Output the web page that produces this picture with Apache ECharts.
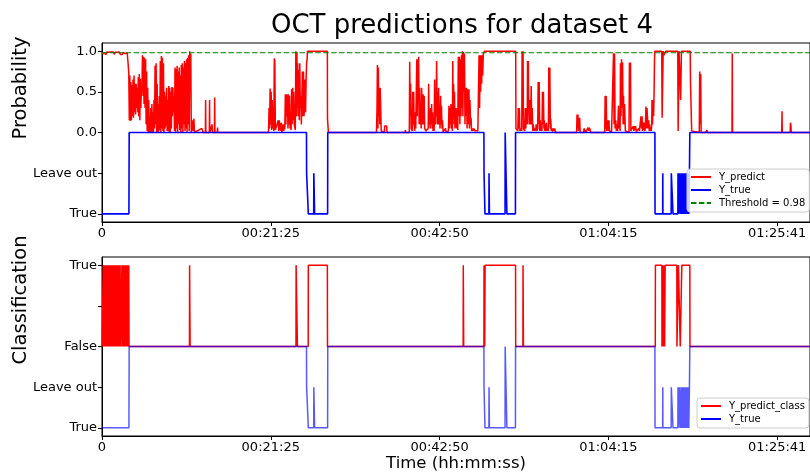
<!DOCTYPE html>
<html><head><meta charset="utf-8">
<script src="https://cdn.jsdelivr.net/npm/echarts@6/dist/echarts.min.js"></script>
<style>html,body{margin:0;padding:0;background:#fff}#c{width:810px;height:476px}</style>
</head><body><div id="c"></div>
<script>
// ---- axis ticks / labels ----
const xTicks = [0, 1285.25, 2570.5, 3855.75, 5141];
const xMax = 5391;
const yTicks = [-1, -0.5, 0, 0.5, 1];
const topYLabels = ['True', 'Leave out', '0.0', '0.5', '1.0'];
const bottomYLabels = ['True', 'Leave out', 'False', '', 'True'];
const threshold = 0.98;

// ---- ground truth (seconds, level: 0 false, -0.5 leave out, -1 true) ----
const yTrue = [[0,-1],[205,-1],[206,-0.5],[207,0],
 [1557,0],[1558,-0.5],[1570,-0.5],[1571,-1],[1612,-1],[1613,-0.5],[1618,-0.5],[1619,-1],[1718,-1],[1719,0],
 [2908,0],[2909,-0.5],[2915,-0.5],[2916,-1],[2946,-1],[2947,-0.5],[2949,-0.5],[2950,-1],[3069,-1],[3070,0],[3082,0],[3083,-1],[3148,-1],[3149,0],
 [4210,0],[4211,-1],[4269,-1],[4270,-0.5],[4271,-1],[4334,-1],[4335,-0.5],[4347,-0.5],[4348,-1],[4385,-1],[4386,-0.5],[4387,-1],
 [4396,-1],[4397,-0.5],[4399,-0.5],[4400,-1],[4409,-1],[4410,-0.5],[4411,-1],[4420,-1],[4421,-0.5],[4422,-1],[4430,-1],[4431,-0.5],[4432,-1],
 [4438,-1],[4439,-0.5],[4440,-1],[4445,-1],[4446,-0.5],[4447,-1],[4452,-1],[4453,-0.5],[4454,-1],[4459,-1],[4460,-0.5],[4461,-1],
 [4466,-1],[4467,-0.5],[4468,-1],[4472,-1],[4473,-0.5],[4475,-0.5],[4476,0],[5391,0]];

// ---- predicted probability ----
// first stretch, sampled every 4 s from t = 0
const predA_t0 = 0, predA_dt = 4;
const predA = [0.97,0.99,0.96,0.985,0.975,0.99,0.97,0.985,0.96,0.99,0.975,0.99,0.97,0.985,0.98,0.99,0.965,0.99,0.975,0.985,
 0.97,0.99,0.975,0.99,0.96,0.985,0.97,0.99,0.975,0.985,0.97,0.99,0.975,0.99,0.97,0.96,0.97,0.965,0.97,0.96,
 0.985,0.99,0.975,0.99,0.97,0.985,0.99,0.96,0.98,0.9,0.82,0.72];
// dense noisy stretch, sampled every 4 s from t = 208
const predB_t0 = 208, predB_dt = 4;
const predB = [0.15,0.7,0.14,0.62,0.15,0.58,0.2,0.65,0.18,0.7,0.25,0.6,0.22,0.6,0.3,0.55,0.25,0.68,0.2,0.72,
 0.15,0.66,0.3,0.55,0.5,0.95,0.45,0.93,0.35,0.92,0.3,0.9,0.1,0.75,0.02,0.55,0,0.4,0,0.2,
 0,0.3,0,0.35,0.01,0.25,0,0.4,0.05,0.82,0.1,0.85,0,0.6,0,0.35,0.01,0.45,0.03,0.88,
 0,0.94,0.05,0.92,0.02,0.85,0,0.5,0.05,0.45,0.08,0.55,0.02,0.4,0.02,0.57,0,0.55,0,0.5,
 0.05,0.56,0.2,0.55,0.25,0.45,0.02,0.8,0.01,0.78,0.05,0.82,0,0.75,0.1,0.8,0.03,0.7,0,0.83,
 0.05,0.85,0,0.8,0.1,0.88,0.02,0.85,0.05,0.9,0,0.92,0.1,0.95,0.02,1.0,0.5,0.97,0];
// remaining points [seconds, probability]
const predRest = [[684,0],[690,0.15],[694,0.02],[700,0.17],[704,0],[760,0.05],[766,0.07],[770,0],[787,0],[789,0.4],[791,0],
 [817,0],[819,0.4],[821,0],[835,0],[838,0.1],[840,0],[856,0],[858,0.43],[860,0],[878,0],[880,0.06],[882,0],
 [1000,0],[1003,0.02],[1006,0],[1150,0],[1153,0.02],[1156,0],
 [1268,0],[1272,0.3],[1276,0.05],[1280,0.54],[1284,0.1],[1288,0.5],[1292,0.03],[1296,0.4],[1300,0.05],[1304,0.3],[1308,0.02],
 [1312,0.91],[1316,0.88],[1320,0.03],[1326,0.02],[1330,0.05],[1342,0.15],[1346,0.02],[1350,0.15],[1354,0.03],[1358,0.12],
 [1362,0.02],[1366,0.12],[1370,0],[1380,0.1],[1384,0.02],[1388,0.1],[1392,0.04],[1396,0.47],[1400,0.1],[1404,0.47],
 [1408,0.2],[1412,0.47],[1416,0.05],[1420,0.47],[1424,0.1],[1428,0.45],[1432,0.05],[1436,0.1],[1440,0.03],[1444,0.53],
 [1448,0.1],[1452,0.55],[1456,0.15],[1460,0.5],[1464,0.1],[1468,0.12],[1472,0.03],[1476,1.0],[1480,0.2],[1484,0.99],
 [1488,0.3],[1490,0.85],[1494,0.2],[1498,0.77],[1502,0.15],[1506,0.85],[1510,0.3],[1514,0.45],[1518,0.1],[1522,0.45],
 [1526,0.75],[1530,0.2],[1534,0.75],[1538,0.2],[1542,0.3],[1546,0.65],[1550,0.25],[1554,0.65],[1558,0.86],[1562,0.9],
 [1564,1.0],[1716,1.0],[1717,0.17],[1722,0.17],[1724,0],[1730,0],
 [2090,0],[2094,0.3],[2097,0.83],[2101,0.05],[2104,0.8],[2108,0.2],[2111,0.55],[2115,0.1],[2118,0.55],[2122,0.3],[2126,0.02],
 [2150,0],[2152,0.08],[2158,0.08],[2162,0.07],[2168,0.08],[2170,0],[2308,0],[2310,0.03],[2312,0],
 [2340,0],[2343,0.87],[2347,0.2],[2350,0.6],[2354,0.05],[2358,0.05],[2362,0.02],[2366,0.5],[2369,0.1],[2373,0.5],[2377,0.1],
 [2381,0.02],[2385,0.25],[2389,0.05],[2393,0.05],[2397,0.9],[2401,0.2],[2404,0.9],[2407,0.4],[2411,0.93],[2415,0.1],
 [2419,0.55],[2423,0.1],[2426,0.3],[2430,0.05],[2434,0.55],[2438,0.1],[2441,0.1],[2445,0.47],[2449,0.1],[2453,0.45],
 [2457,0.05],[2461,0.05],[2466,0.02],[2472,0.02],[2478,0],[2484,0.05],[2487,0.6],[2491,0.1],[2495,0.2],[2499,0.05],
 [2502,0.3],[2506,0.1],[2510,0.35],[2514,0.05],[2517,0.25],[2521,0.02],[2525,0.05],[2529,0.02],[2533,0.65],[2537,0.1],
 [2540,0.4],[2544,0.2],[2548,0.88],[2552,0.1],[2555,0.5],[2559,0.1],[2563,0.55],[2567,0.1],[2570,0.3],[2574,0.05],
 [2578,0.45],[2582,0.1],[2585,0.33],[2589,0.05],[2593,0.15],[2597,0.01],[2601,0.02],[2608,0],[2616,0.05],[2620,0],
 [2623,0.02],[2630,0],[2638,0.02],[2642,0.33],[2646,0.05],[2650,0.3],[2654,0.1],[2657,0.35],[2661,0.05],[2665,0.1],
 [2668,0.02],[2671,0.88],[2674,0.2],[2677,0.6],[2681,0.1],[2684,0.5],[2688,0.05],[2692,0.3],
 [2697,0.3],[2701,0.05],[2705,0.3],[2709,0.03],[2713,0.93],[2717,0.2],[2721,0.93],[2725,0.1],[2729,0.9],[2733,0.2],
 [2737,0.95],[2741,0.3],[2744,1.0],[2748,0.2],[2752,0.99],[2756,0.5],[2760,0.97],[2764,0.1],[2768,0.55],[2772,0.2],
 [2776,0.55],[2780,0.05],[2786,0.53],[2790,0.1],[2794,0.53],[2798,0.05],[2802,0.4],[2806,0.1],[2810,0.18],[2814,0.02],
 [2820,0.05],[2826,0.02],[2832,0.05],[2840,0.02],[2850,0],[2862,0.02],[2868,0],[2871,0.95],[2875,0.3],[2879,0.95],
 [2883,0.5],[2887,0.95],[2891,0.6],[2895,0.95],[2899,0.7],[2903,0.96],[2907,0.96],[2911,1.0],[3150,1.0],
 [3152,0.05],[3158,0.03],[3166,0.02],[3170,0.3],[3174,0.05],[3178,0.3],[3182,0.02],[3190,0.05],[3196,0.02],[3199,1.0],
 [3203,0.2],[3206,1.0],[3209,0.05],[3215,0.05],[3219,0.02],[3223,0.3],[3227,0.05],[3231,0.3],[3235,0.3],[3238,0.1],
 [3240,0.88],[3243,0.3],[3246,0.88],[3249,0.3],[3253,0.1],[3257,0.4],[3261,0.1],[3265,0.2],[3268,0.57],[3272,0.1],
 [3276,0.3],[3280,0.02],[3284,0.1],[3290,0.02],[3296,0.05],[3302,0.02],[3306,0.1],[3312,0.02],[3318,0.05],[3321,0.62],
 [3325,0.1],[3329,0.62],[3333,0.02],[3337,0.15],[3341,0.02],[3345,0.1],[3350,0.02],[3354,0.5],[3358,0.1],[3361,0.5],
 [3365,0.05],[3368,0.15],[3372,0.02],[3376,0.1],[3380,0.02],[3384,0.12],[3388,0.02],[3394,0.05],[3399,0.02],[3402,0.8],
 [3406,0.1],[3410,0.8],[3414,0.05],[3417,0.17],[3421,0.02],[3427,0.05],[3432,0.01],[3438,0.05],[3444,0.02],[3448,0.05],[3452,0],
 [3614,0],[3617,0.22],[3620,0.05],[3624,0.22],[3628,0.02],[3634,0.1],[3637,0.18],[3641,0],[3668,0],[3670,0.05],[3675,0.03],
 [3680,0.05],[3684,0],[3698,0],[3700,0.06],[3706,0.02],[3712,0.06],[3718,0.04],[3722,0],
 [3828,0],[3831,0.45],[3835,0.05],[3839,0.45],[3843,0.02],[3848,0.02],[3852,0.15],[3856,0.02],[3860,0.15],[3864,0.02],
 [3870,0.02],[3880,0.01],[3890,0.02],[3895,0.975],[3899,0.1],[3903,0.97],[3907,0.05],[3912,0.15],[3916,0.02],[3920,0.1],
 [3926,0.02],[3933,0.33],[3937,0.05],[3941,0.2],[3945,0.02],[3948,0.85],[3952,0.2],[3956,0.9],[3960,0.3],[3964,0.86],
 [3968,0.1],[3971,0.45],[3975,0.1],[3979,0.35],[3985,0.02],[3995,0],
 [4013,0],[4016,0.86],[4020,0.3],[4024,0.86],[4027,0.02],[4040,0],[4046,0.08],[4050,0.02],[4054,0.08],[4058,0.03],
 [4062,0.08],[4066,0.08],[4069,0.01],[4080,0.02],[4086,0.05],[4092,0.02],[4100,0.03],[4104,0.2],[4108,0.05],[4112,0.2],
 [4115,0.02],[4118,0.13],[4122,0.03],[4126,0.05],[4130,0.12],[4134,0.02],[4138,0.1],[4142,0.32],[4146,0.05],[4150,0.3],
 [4154,0.32],[4158,0.05],[4163,0.15],[4167,0.02],[4170,0.1],[4174,0.02],[4178,0.05],[4182,0.02],[4186,0.1],[4188,0.4],
 [4192,0.1],[4196,0.4],[4200,0.2],[4204,0.5],[4207,0.9],[4210,1.0],[4262,1.0],[4265,0.18],[4270,0.18],[4273,1.0],
 [4278,0.95],[4284,0.97],[4290,0.96],[4293,1.0],[4384,1.0],[4387,0.02],[4391,0.02],[4394,1.0],[4404,1.0],[4406,0.4],
 [4410,0.4],[4412,1.0],[4479,1.0],[4481,0.62],[4487,0.6],[4490,0.02],[4500,0],[4548,0],[4551,0.75],[4556,0.1],[4559,0.72],
 [4562,0],[4596,0],[4598,0.02],[4606,0.03],[4610,0],[4797,0],[4799,0.97],[4801,0],[5176,0],[5178,0.26],[5180,0],
 [5240,0],[5242,0.12],[5246,0.08],[5248,0],[5391,0]];

// ---- predicted class (1 true, 0 false) ----
const classStart = [[0,0],[9,0]];
const classA_t0 = 10, classA_dt = 2;
const classA = [1,0,1,1,0,1,0,0,1,0,1,0,1,1,0,1,0,1,0,0,1,0,1,0,1,0,1,1,0,1,0,1,0,1,0,0,1,0,1,0,1,0,0,
 1,0,1,0,1,1,0,1,0,1,0,1,0,1,1,0,1,0,1,0,0,1,0];
const classGap = [[145,0],[151,0],[152,1],[153,0],[157,0]];
const classB_t0 = 158, classB_dt = 2;
const classB = [1,0,1,0,1,1,0,1,0,1,0,1,0,1,1,0,1,0,1,0,1,1,0,1,0];
const classRest = [[207,0],[666,0],[667,1],[670,1],[671,0],[1477,0],[1478,1],[1487,1],[1488,0],[1570,0],[1571,1],[1716,1],[1717,0],
 [2750,0],[2751,1],[2753,1],[2754,0],[2908,0],[2909,1],[2913,1],[2914,0],[2916,0],[2917,1],[3149,1],[3150,0],
 [3205,0],[3206,1],[3208,1],[3209,0],[4213,0],[4214,1],[4263,1],[4264,0],[4268,1],[4270,0],[4275,1],[4277,0],[4282,1],
 [4284,0],[4287,0],[4288,1],[4377,1],[4378,0],[4388,0],[4389,1],[4402,1],[4403,0],[4414,0],[4415,1],[4476,1],[4477,0],[5391,0]];

function block(t0, dt, vals) { return vals.map((v, i) => [t0 + i * dt, v]); }
const predData = block(predA_t0, predA_dt, predA).concat(block(predB_t0, predB_dt, predB), predRest);
const classData = classStart.concat(block(classA_t0, classA_dt, classA), classGap, block(classB_t0, classB_dt, classB), classRest);

const FONT = '"DejaVu Sans", sans-serif';
function pad2(n) { return (n < 10 ? '0' : '') + n; }
function fmtTime(v) {
  if (Math.abs(v) < 1e-9) return '0';
  const s = Math.floor(v + 1e-6);
  return pad2(Math.floor(s / 3600)) + ':' + pad2(Math.floor((s % 3600) / 60)) + ':' + pad2(s % 60);
}
function yLabelFn(labels) {
  return function (v) {
    for (let i = 0; i < yTicks.length; i++) if (Math.abs(yTicks[i] - v) < 1e-6) return labels[i];
    return '';
  };
}

function xAxisOf(gridIndex, withName) {
  const ax = {
    type: 'value', gridIndex: gridIndex, min: 0, max: xMax,
    axisLine: { show: true, onZero: false, lineStyle: { color: '#000', width: 1 } },
    axisTick: { show: true, length: 4, customValues: xTicks, lineStyle: { color: '#000' } },
    axisLabel: { customValues: xTicks, formatter: fmtTime, color: '#000', fontSize: 13, fontFamily: FONT, margin: 5 },
    splitLine: { show: false }
  };
  if (withName) {
    ax.name = 'Time (hh:mm:ss)';
    ax.nameLocation = 'middle';
    ax.nameGap = 18;
    ax.nameTextStyle = { fontSize: 16.5, fontFamily: FONT, color: '#000' };
  }
  return ax;
}
function yAxisOf(gridIndex, labels) {
  return {
    type: 'value', gridIndex: gridIndex, min: -1.1, max: 1.1,
    axisLine: { show: true, onZero: false, lineStyle: { color: '#000', width: 1 } },
    axisTick: { show: true, length: 4, customValues: yTicks, lineStyle: { color: '#000' } },
    axisLabel: { customValues: yTicks, formatter: yLabelFn(labels), color: '#000', fontSize: 13, fontFamily: FONT, margin: 5 },
    splitLine: { show: false }
  };
}
function lineSeries(name, xi, data, color, z, extra) {
  const s = {
    name: name, type: 'line', xAxisIndex: xi, yAxisIndex: xi, data: data, z: z,
    symbol: 'none', showSymbol: false, silent: true, animation: false, sampling: false,
    lineStyle: { color: color, width: 1.5 }, itemStyle: { color: color },
    emphasis: { disabled: true }
  };
  return Object.assign(s, extra || {});
}

const legendCommon = {
  orient: 'vertical', selectedMode: false, itemWidth: 20, itemHeight: 12, itemGap: 3,
  padding: [3, 4, 4, 3], backgroundColor: 'rgba(255,255,255,0.8)', borderColor: '#cccccc',
  borderWidth: 1, borderRadius: 3, z: 10,
  itemStyle: { opacity: 0 },
  textStyle: { fontSize: 10, fontFamily: FONT, color: '#000', padding: [0, 0, 0, 3] }
};

const chart = echarts.init(document.getElementById('c'), null, { renderer: 'canvas' });
chart.setOption({
  animation: false,
  backgroundColor: '#fff',
  title: { text: 'OCT predictions for dataset 4', left: 457, top: 8, textAlign: 'center',
    textStyle: { fontSize: 26, fontWeight: 'normal', fontFamily: FONT, color: '#000' } },
  grid: [
    { left: 102, right: -3, top: 43, height: 179, show: true, borderColor: '#000', borderWidth: 1, backgroundColor: 'transparent' },
    { left: 102, right: -3, top: 257, height: 179, show: true, borderColor: '#000', borderWidth: 1, backgroundColor: 'transparent' }
  ],
  xAxis: [xAxisOf(0, false), xAxisOf(1, true)],
  yAxis: [yAxisOf(0, topYLabels), yAxisOf(1, bottomYLabels)],
  legend: [
    Object.assign({}, legendCommon, { left: 687, top: 169, data: ['Y_predict', 'Y_true', 'Threshold = 0.98'] }),
    Object.assign({}, legendCommon, { left: 697, top: 398, data: ['Y_predict_class', 'Y_true'] })
  ],
  graphic: [
    { type: 'text', x: 21, y: 88, rotation: Math.PI / 2, silent: true,
      style: { text: 'Probability', font: '19.5px "DejaVu Sans"', fill: '#000', textAlign: 'center', textVerticalAlign: 'middle' } },
    { type: 'text', x: 21, y: 300, rotation: Math.PI / 2, silent: true,
      style: { text: 'Classification', font: '19.5px "DejaVu Sans"', fill: '#000', textAlign: 'center', textVerticalAlign: 'middle' } }
  ],
  series: [
    lineSeries('Y_predict', 0, predData, '#ff0000', 2),
    lineSeries('Y_true', 0, yTrue, '#0000ff', 3, { lineStyle: { color: '#0000ff', width: 1.6 } }),
    lineSeries('Threshold = 0.98', 0, [[0, threshold], [xMax, threshold]], '#008000', 4,
      { lineStyle: { color: '#008000', width: 1.2, type: [5.5, 2.4] } }),
    lineSeries('Y_predict_class', 1, classData, '#ff0000', 2),
    lineSeries('Y_true', 1, yTrue, '#0000ff', 3, { lineStyle: { color: '#0000ff', width: 1.5, opacity: 0.65 } })
  ]
});
</script></body></html>
